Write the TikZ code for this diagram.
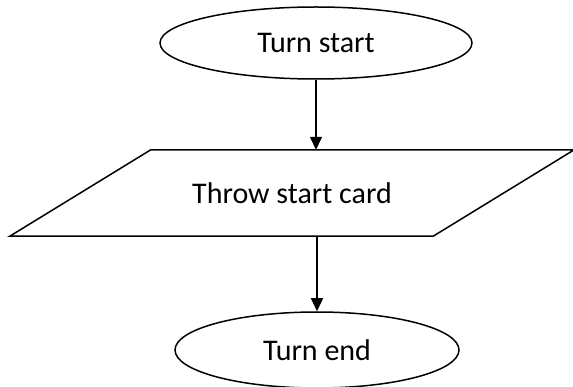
\documentclass[tikz,border=0pt]{standalone}
\usepackage{fontspec}
\setmainfont{Carlito}
\usetikzlibrary{shapes.geometric,arrows.meta}

\tikzset{
  terminal/.style={draw, ellipse, line width=1.5pt, minimum width=312pt,
    minimum height=72pt, inner sep=0pt, font=\fontsize{30}{36}\selectfont},
  io/.style={rectangle, minimum width=282pt, minimum height=86pt,
    inner sep=0pt, font=\fontsize{30}{36}\selectfont},
  flow/.style={-{Triangle[width=12pt,length=13pt]}, line width=1.5pt}
}

\begin{document}
\begin{tikzpicture}[x=1pt,y=1pt]
  \useasboundingbox (0,0) rectangle (573,-387);

  \node[terminal] (start) at (316,-43) {Turn start};
  \node[io] (throw) at (292,-193) {Throw start card};
  \node[terminal, minimum width=284pt, minimum height=76pt] (finish) at (317,-350) {Turn end};

  % parallelogram round the input node
  \draw[line width=1.5pt] (throw.north west) -- ([xshift=141pt]throw.north east)
    -- (throw.south east) -- ([xshift=-141pt]throw.south west) -- cycle;

  \draw[flow] (start.south) -- (start.south |- throw.north);
  \draw[flow] (finish.north |- throw.south) -- (finish.north);
\end{tikzpicture}
\end{document}
